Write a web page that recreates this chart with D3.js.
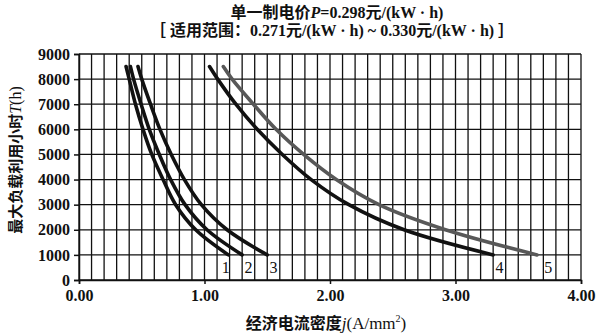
<!DOCTYPE html>
<html><head><meta charset="utf-8">
<script src="https://cdn.jsdelivr.net/npm/d3@7"></script>
<style>
body{margin:0;background:#fff}
text{fill:#111}
</style></head><body>
<svg id="c" width="600" height="334"></svg>
<script>
// ---- data ----
const hours   = [1000, 2000, 3000, 4000, 5000, 6000, 7000, 8000, 8500];
const curve1  = [1.19, 0.93, 0.77, 0.67, 0.58, 0.51, 0.45, 0.40, 0.375];
const curve2  = [1.30, 1.02, 0.845, 0.73, 0.64, 0.56, 0.495, 0.435, 0.41];
const curve3  = [1.50, 1.18, 0.975, 0.84, 0.735, 0.645, 0.57, 0.50, 0.47];
const curve4  = [3.30, 2.59, 2.15, 1.85, 1.62, 1.42, 1.25, 1.105, 1.04];
const curve5  = [3.65, 2.92, 2.39, 2.05, 1.79, 1.57, 1.39, 1.22, 1.15];
const curveNames = ["1", "2", "3", "4", "5"];
const labelJ  = [1.17, 1.35, 1.55, 3.35, 3.74];
const xTicks  = [0, 1, 2, 3, 4];
const xTickLabels = ["0.00", "1.00", "2.00", "3.00", "4.00"];
const yTicks  = [0, 1000, 2000, 3000, 4000, 5000, 6000, 7000, 8000, 9000];
const titleLine1 = ["单一制电价", "P", "=0.298元/(kW · h)"];
const titleLine2 = "［ 适用范围：0.271元/(kW · h) ~ 0.330元/(kW · h) ］";
const yLabel = ["最大负载利用小时", "T", "(h)"];
const xLabel = ["经济电流密度", "j", "(A/mm", "2", ")"];

const series = [curve1, curve2, curve3, curve4, curve5];
const colors = ["#111", "#111", "#111", "#111", "#585858"];

const svg = d3.select("#c");
const x = d3.scaleLinear().domain([0, 4]).range([79, 581]);
const y = d3.scaleLinear().domain([0, 9000]).range([280, 54]);
const font = "'Liberation Serif','Noto Sans CJK SC',serif";

// grid
const gx = d3.range(0, 41).map(i => i / 10);
svg.append("g").selectAll("line").data(gx).join("line")
  .attr("x1", d => x(d)).attr("x2", d => x(d))
  .attr("y1", y(0)).attr("y2", y(9000))
  .attr("stroke", "#111").attr("stroke-width", 1.3);
svg.append("g").selectAll("line").data(yTicks).join("line")
  .attr("x1", x(0)).attr("x2", x(4))
  .attr("y1", d => y(d)).attr("y2", d => y(d))
  .attr("stroke", "#111").attr("stroke-width", 1.3);

// axes
const ax = svg.append("g").attr("transform", `translate(0,${y(0)})`)
  .call(d3.axisBottom(x).tickValues(xTicks).tickSize(4).tickPadding(6)
    .tickFormat((d, i) => xTickLabels[i]));
const ay = svg.append("g").attr("transform", `translate(${x(0)},0)`)
  .call(d3.axisLeft(y).tickValues(yTicks).tickSize(5).tickPadding(4)
    .tickFormat(d3.format("d")));
[ax, ay].forEach(g => {
  g.selectAll("path,line").attr("stroke", "#111").attr("stroke-width", 1.5);
  g.selectAll("text").attr("font-family", font).attr("font-weight", "bold")
    .attr("font-size", 16).attr("fill", "#111");
});

// curves
const line = d3.line().x(d => x(d[0])).y(d => y(d[1])).curve(d3.curveCatmullRom);
series.forEach((s, i) => {
  svg.append("path")
    .attr("d", line(s.map((v, k) => [v, hours[k]])))
    .attr("fill", "none").attr("stroke", colors[i])
    .attr("stroke-width", 3.6).attr("stroke-linecap", "round");
  svg.append("text").attr("x", x(labelJ[i])).attr("y", y(1000) + 18)
    .attr("text-anchor", "middle").attr("font-family", font)
    .attr("font-size", 16).text(curveNames[i]);
});

// titles
const t1 = svg.append("text").attr("x", 337).attr("y", 18).attr("text-anchor", "middle")
  .attr("font-family", font).attr("font-size", 16).attr("font-weight", "bold");
t1.append("tspan").text(titleLine1[0]);
t1.append("tspan").attr("font-style", "italic").text(titleLine1[1]);
t1.append("tspan").text(titleLine1[2]);

svg.append("text").attr("x", 332).attr("y", 36).attr("text-anchor", "middle")
  .attr("font-family", font).attr("font-size", 16).attr("font-weight", "bold")
  .text(titleLine2);

// y label
const yl = svg.append("text").attr("transform", "translate(21,160) rotate(-90)")
  .attr("text-anchor", "middle").attr("font-family", font).attr("font-size", 15);
yl.append("tspan").attr("font-weight", "bold").text(yLabel[0]);
yl.append("tspan").attr("font-style", "italic").attr("font-size", 16).text(yLabel[1]);
yl.append("tspan").attr("font-size", 16).text(yLabel[2]);

// x label
const xl = svg.append("text").attr("x", 326).attr("y", 329)
  .attr("text-anchor", "middle").attr("font-family", font).attr("font-size", 16);
xl.append("tspan").attr("font-weight", "bold").text(xLabel[0]);
xl.append("tspan").attr("font-style", "italic").attr("font-size", 17).text(xLabel[1]);
xl.append("tspan").attr("font-size", 17).text(xLabel[2]);
xl.append("tspan").attr("font-size", 10).attr("dy", -7).text(xLabel[3]);
xl.append("tspan").attr("font-size", 17).attr("dy", 7).text(xLabel[4]);
</script>
</body></html>
